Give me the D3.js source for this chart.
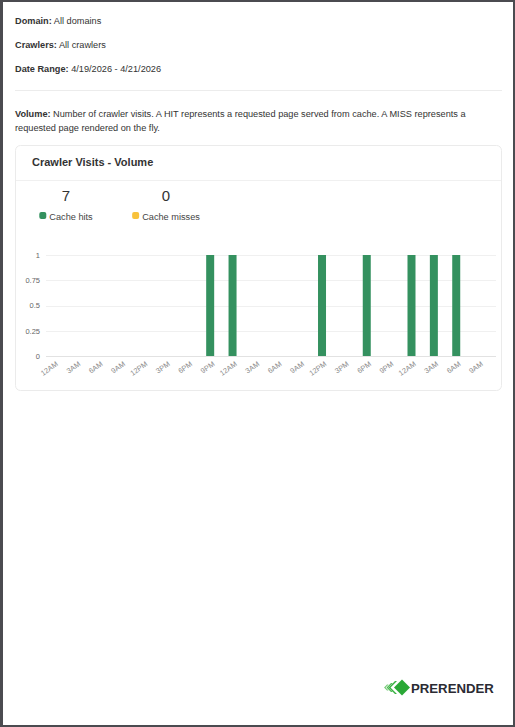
<!DOCTYPE html>
<html><head><meta charset="utf-8">
<script src="https://cdn.jsdelivr.net/npm/d3@7"></script>
<style>
html,body{margin:0;padding:0;background:#fff;}
svg{display:block;font-family:"Liberation Sans",Arial,sans-serif;}
</style></head>
<body>
<script>
const categories = ["12AM","3AM","6AM","9AM","12PM","3PM","6PM","9PM","12AM","3AM","6AM","9AM","12PM","3PM","6PM","9PM","12AM","3AM","6AM","9AM"];
const cacheHits   = [0,0,0,0,0,0,0,1,1,0,0,0,1,0,1,0,1,1,1,0];
const cacheMisses = [0,0,0,0,0,0,0,0,0,0,0,0,0,0,0,0,0,0,0,0];
const yTicks = [0,0.25,0.5,0.75,1];
const totals = [{label:"Cache hits", value:7, color:"#34915f"},{label:"Cache misses", value:0, color:"#f8c23c"}];

const W=515,H=727;
const svg=d3.select("body").append("svg").attr("width",W).attr("height",H);
// page frame
svg.append("rect").attr("width",W).attr("height",H).attr("fill","#4b4b50");
svg.append("rect").attr("x",3).attr("y",2).attr("width",W-5).attr("height",H-4).attr("fill","#fff");

const FS=9.2;
function infoLine(y,bold,rest){
  const t=svg.append("text").attr("x",15).attr("y",y).attr("font-size",FS).attr("fill","#333");
  t.append("tspan").attr("font-weight","bold").text(bold);
  t.append("tspan").text(" "+rest);
}
infoLine(24,"Domain:","All domains");
infoLine(48,"Crawlers:","All crawlers");
infoLine(72,"Date Range:","4/19/2026 - 4/21/2026");
svg.append("line").attr("x1",15).attr("x2",502).attr("y1",90.5).attr("y2",90.5).attr("stroke","#ececec");
infoLine(117,"Volume:","Number of crawler visits. A HIT represents a requested page served from cache. A MISS represents a");
svg.append("text").attr("x",15).attr("y",131).attr("font-size",FS).attr("fill","#333").text("requested page rendered on the fly.");

// card
svg.append("rect").attr("x",15.5).attr("y",145.5).attr("width",486).attr("height",245).attr("rx",5)
  .attr("fill","#fff").attr("stroke","#ebebeb");
svg.append("line").attr("x1",16).attr("x2",501).attr("y1",180.5).attr("y2",180.5).attr("stroke","#f0f0f0");
svg.append("text").attr("x",32).attr("y",166).attr("font-size",11).attr("font-weight","bold").attr("fill","#333").text("Crawler Visits - Volume");

// totals + legend
const lg=svg.append("g");
totals.forEach((d,i)=>{
  const cx=66+i*100;
  lg.append("text").attr("x",cx).attr("y",201).attr("text-anchor","middle").attr("font-size",15).attr("fill","#333").text(d.value);
  const item=lg.append("g");
  item.append("rect").attr("x",0).attr("y",212).attr("width",7).attr("height",7).attr("rx",2).attr("fill",d.color);
  const t=item.append("text").attr("x",10).attr("y",219.5).attr("font-size",9.2).attr("fill","#444").text(d.label);
  const w=10+t.node().getComputedTextLength();
  item.attr("transform",`translate(${cx-w/2},0)`);
});

// chart
const plotL=46,plotR=496,plotT=255,plotB=356;
const y=d3.scaleLinear().domain([0,1]).range([plotB,plotT]);
const x=d3.scalePoint().domain(d3.range(categories.length)).range([53.6,478.6]);
const g=svg.append("g");
g.selectAll("line.grid").data(yTicks).join("line").attr("class","grid")
  .attr("x1",plotL).attr("x2",plotR).attr("y1",d=>Math.round(y(d))+0.5).attr("y2",d=>Math.round(y(d))+0.5)
  .attr("stroke",d=>d===0?"#e2e2e2":"#f0f0f0");
const yAxis=d3.axisLeft(y).tickValues(yTicks).tickSize(0).tickPadding(0).tickFormat(d=>String(d));
const ya=g.append("g").attr("transform",`translate(${plotL-6},0)`).call(yAxis);
ya.select(".domain").remove();
ya.selectAll("text").attr("font-size",7.5).attr("fill","#666").attr("font-family","Liberation Sans, Arial, sans-serif");

const barW=8;
g.selectAll("rect.hit").data(cacheHits.map((v,i)=>({v,i}))).join("rect").attr("class","hit")
  .attr("x",d=>x(d.i)-barW/2).attr("width",barW)
  .attr("y",d=>y(d.v)).attr("height",d=>y(0)-y(d.v)).attr("fill","#34915f");
g.selectAll("rect.miss").data(cacheMisses.map((v,i)=>({v,i}))).join("rect").attr("class","miss")
  .attr("x",d=>x(d.i)-barW/2).attr("width",barW)
  .attr("y",d=>y(d.v)).attr("height",d=>y(0)-y(d.v)).attr("fill","#f8c23c");

const xAxis=d3.axisBottom(x).tickSize(0).tickPadding(0).tickFormat(i=>categories[i]);
const xa=g.append("g").attr("transform",`translate(0,${plotB})`).call(xAxis);
xa.select(".domain").remove();
xa.selectAll("text").attr("font-size",7.3).attr("fill","#8a8a8a").attr("font-family","Liberation Sans, Arial, sans-serif")
  .attr("text-anchor","end").attr("x",0).attr("y",0).attr("dy","0.35em")
  .attr("transform","translate(3,7) rotate(-35)");

// logo
const logo=svg.append("g").attr("transform","translate(382,679)");
logo.append("path").attr("d","M12 8.5 L20 0.5 L28 8.5 L20 16.5 Z").attr("fill","#2aa836");
logo.append("path").attr("d","M13 2 L6.5 8.5 L13 15 L15 15 L8.5 8.5 L15 2 Z").attr("fill","#38b041");
logo.append("path").attr("d","M9 4 L4.5 8.5 L9 13 L10.8 13 L6.3 8.5 L10.8 4 Z").attr("fill","#4fbc55");
logo.append("path").attr("d","M5 5.5 L2 8.5 L5 11.5 L6.6 11.5 L3.6 8.5 L6.6 5.5 Z").attr("fill","#78cb7a");
svg.append("text").attr("x",411).attr("y",693).attr("font-size",13.2).attr("font-weight","bold").attr("fill","#2b2b33").text("PRERENDER");
</script>
</body></html>
